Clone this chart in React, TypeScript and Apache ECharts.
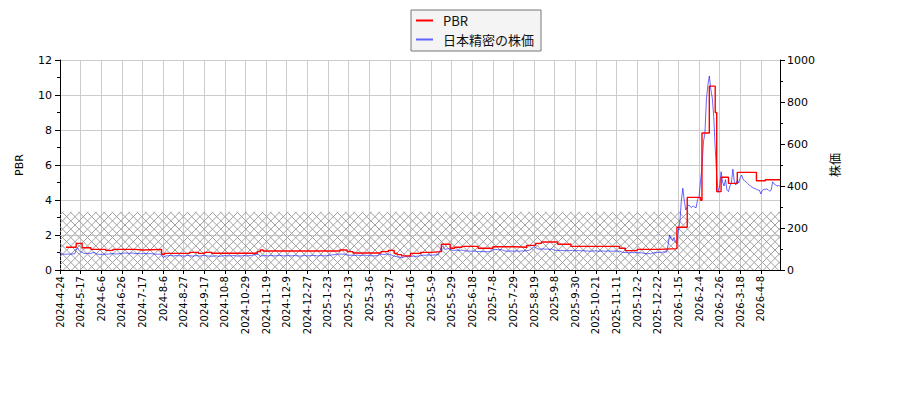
import React, { useEffect, useRef } from "react";
import * as echarts from "echarts";

// x tick labels: one every 14 trading days
const TICK_LABELS = [
  "2024-4-24", "2024-5-17", "2024-6-6", "2024-6-26", "2024-7-17", "2024-8-6",
  "2024-8-27", "2024-9-17", "2024-10-8", "2024-10-29", "2024-11-19", "2024-12-9",
  "2024-12-27", "2025-1-23", "2025-2-13", "2025-3-6", "2025-3-27", "2025-4-16",
  "2025-5-9", "2025-5-29", "2025-6-18", "2025-7-8", "2025-7-29", "2025-8-19",
  "2025-9-8", "2025-9-30", "2025-10-21", "2025-11-11", "2025-12-2", "2025-12-22",
  "2026-1-15", "2026-2-4", "2026-2-26", "2026-3-18", "2026-4-8",
];
const TICK_STEP = 14;
const N_DAYS = 490;

// 日本精密の株価 (yen), one value per trading day
const PRICE = [
  75, 75, 76, 75, 75, 76, 76, 75, 76, 77, 77,
  95, 106, 92, 87, 85,
  80, 79, 79, 80, 78, 79,
  82, 83, 81,
  76, 75, 75, 74, 75, 76, 75, 75, 76,
  77, 77, 78, 77, 76, 77, 77, 78,
  80, 80, 81, 80, 80, 79, 80, 81, 80,
  78, 78, 79, 78, 77, 78, 78, 79, 78, 77, 78, 78, 77, 76,
  75, 75, 76, 75, 74,
  59,
  64, 67, 68, 68, 69, 68, 67, 68, 69, 68, 68,
  67, 68, 66, 67, 69, 70, 68, 67, 66, 67,
  68, 69, 67, 66, 68, 69, 70, 68, 67, 66,
  67, 65, 66, 67, 68, 66, 65, 66, 67, 68,
  69, 68, 67,
  68, 67, 68, 69, 68, 67, 66, 68, 67, 68,
  69, 68, 67, 68, 69, 70, 71, 72, 74,
  75, 73, 64, 68,
  68, 69, 68, 67, 68, 69, 68, 68, 67, 68,
  69, 70, 69, 68, 67, 68, 68, 69, 68, 67,
  68, 69, 68, 68, 67, 66, 67, 68, 69, 68,
  67, 68, 68, 69, 70, 69, 68, 67, 68, 69,
  68, 67, 68, 68, 69, 70, 71, 72, 73, 74,
  75, 75,
  76, 76, 75, 76, 74, 72,
  70, 70, 71, 70, 69, 70, 71, 70, 69, 70, 70, 71, 70, 69, 70,
  68, 68, 67, 68, 68, 69,
  73, 75, 75, 74, 75, 76, 75, 74, 72,
  68, 66, 64, 63, 62, 61,
  58, 60,
  63, 64, 65, 65, 64, 65, 66, 65, 65, 66, 67, 68,
  70, 71, 70, 71, 72, 71, 70, 71, 72, 71, 72, 74,
  90, 108, 116,
  100, 98, 101, 102, 99,
  95, 94, 93, 95, 94, 93, 94, 95, 93, 92,
  90, 91, 90, 89, 90, 91, 90,
  88, 87, 88, 89, 88, 87, 88, 86, 87, 88, 90,
  96, 97, 98, 97, 96, 97, 96, 94,
  91, 90, 89, 90, 91, 90, 89, 90, 91, 90, 89, 90, 91, 90, 91, 92, 93, 95,
  100, 106, 111, 108,
  101, 100, 99, 100, 101, 100, 99, 100, 98, 99, 100, 97,
  94, 93, 94, 92, 93, 94, 92, 93, 91, 92, 93, 92, 94, 92, 91, 92, 93, 92, 91, 92, 92,
  90, 91, 90, 89, 90, 91, 90, 92, 90, 89, 90, 91, 90, 89, 90, 91, 90, 90, 89, 90,
  91, 90, 89, 90, 88,
  84, 83, 84, 83, 82, 83, 84, 83, 82, 84, 83, 82, 81, 82, 80, 79, 78, 77, 79, 76,
  80, 82, 83, 82, 84, 83, 84, 85, 86, 85,
  85, 120, 167, 150, 140, 155, 132, 128, 190, 230,
  330, 389, 330, 286, 300, 310, 302, 298, 305, 300,
  296, 335, 348, 420, 492, 610, 650, 810, 880, 924,
  860, 820, 730, 580, 450, 370, 400, 468, 420, 400,
  430, 380, 373, 400, 414, 480, 420, 405, 430, 415,
  440, 452, 430, 425, 420, 412, 405, 400, 395, 390,
  388, 384, 381, 380, 362, 380, 384, 384, 386, 382,
  375, 380, 420, 410, 405, 400, 402, 400,
];

// PBR: [trading-day index where the value starts, value]
const PBR_STEPS: [number, number][] = [
  [4, 1.3], [11, 1.52], [15, 1.27], [21, 1.18], [31, 1.12], [36, 1.18],
  [51, 1.14], [56, 1.18], [69, 0.9], [71, 0.95], [88, 1.01], [94, 0.95],
  [98, 1.01], [103, 0.96], [134, 1.05], [136, 1.14], [138, 1.09], [190, 1.14],
  [195, 1.05], [199, 0.97], [218, 1.05], [223, 1.12], [227, 0.95], [229, 0.88],
  [232, 0.81], [238, 0.95], [245, 1.01], [252, 1.05], [259, 1.47], [265, 1.24],
  [268, 1.3], [273, 1.35], [284, 1.24], [294, 1.33], [309, 1.3], [317, 1.41],
  [323, 1.52], [327, 1.6], [338, 1.47], [347, 1.35], [380, 1.24], [384, 1.11],
  [392, 1.18], [407, 1.22], [419, 2.44], [426, 4.15], [435, 3.98], [436, 7.83],
  [441, 10.51], [445, 9.0], [446, 4.48], [449, 5.3], [454, 4.95], [460, 5.58],
  [473, 5.1], [479, 5.16], [489, 5.16],
];

const HATCH_TOP = 3.33;

function hatchImage(): string {
  const s = 25;
  const d = s / 3;
  let p = "";
  for (let k = -3; k <= 3; k++) {
    const c = k * d;
    p += `M${c} 0L${c + s} ${s}`;
  }
  for (let k = 0; k <= 6; k++) {
    const c = k * d;
    p += `M${c} 0L${c - s} ${s}`;
  }
  const svg = `<svg xmlns="http://www.w3.org/2000/svg" width="${s}" height="${s}"><path d="${p}" stroke="#a0a0a0" stroke-width="1" fill="none"/></svg>`;
  return "data:image/svg+xml;charset=utf-8," + encodeURIComponent(svg);
}

export default function App() {
  const ref = useRef<HTMLDivElement>(null);
  useEffect(() => {
    document.body.style.margin = "0";
    const chart = echarts.init(ref.current!, null, { renderer: "svg" });
    const categories = Array.from({ length: N_DAYS }, (_, i) => String(i));
    const font = "DejaVu Sans";
    const option: any = {
      animation: false,
      grid: { left: 60, right: 120, top: 60, bottom: 130 },
      legend: {
        orient: "vertical",
        left: 411,
        top: 10,
        backgroundColor: "#f4f4f4",
        borderColor: "#777777",
        borderWidth: 1,
        borderRadius: 0,
        padding: [3, 7, 4, 5],
        icon: "rect",
        itemWidth: 17,
        itemHeight: 2,
        itemGap: 4,
        textStyle: {
          fontFamily: "Noto Sans CJK JP",
          fontSize: 13,
          lineHeight: 15,
          color: "#111",
          padding: [0, 0, 0, 5],
        },
        data: ["PBR", "日本精密の株価"],
      },
      xAxis: {
        type: "category",
        data: categories,
        boundaryGap: false,
        axisLine: { show: true, lineStyle: { color: "#000", width: 1 } },
        axisTick: { show: true, interval: TICK_STEP - 1, length: 4, lineStyle: { color: "#000" } },
        axisLabel: {
          interval: TICK_STEP - 1,
          rotate: 90,
          margin: 6,
          fontFamily: font,
          fontSize: 10,
          color: "#000",
          formatter: (_v: string, idx: number) =>
            idx % TICK_STEP === 0 ? TICK_LABELS[idx / TICK_STEP] ?? "" : "",
        },
        splitLine: { show: true, interval: TICK_STEP - 1, lineStyle: { color: "#cccccc", width: 1 } },
      },
      yAxis: [
        {
          type: "value",
          position: "left",
          min: 0,
          max: 12,
          interval: 2,
          name: "PBR",
          nameLocation: "middle",
          nameGap: 35,
          nameRotate: 90,
          nameTextStyle: { fontFamily: font, fontSize: 11, color: "#000" },
          axisLine: { show: true, lineStyle: { color: "#000" } },
          axisTick: { show: true, length: 5, lineStyle: { color: "#000" } },
          minorTick: { show: true, splitNumber: 2, length: 3, lineStyle: { color: "#000" } },
          axisLabel: { fontFamily: font, fontSize: 11, color: "#000", margin: 8 },
          splitLine: { show: true, lineStyle: { color: "#cccccc", width: 1 } },
        },
        {
          type: "value",
          position: "right",
          min: 0,
          max: 1000,
          interval: 200,
          name: "株価",
          nameLocation: "middle",
          nameGap: 48,
          nameRotate: 90,
          nameTextStyle: { fontFamily: "Noto Sans CJK JP", fontSize: 12, color: "#000" },
          axisLine: { show: true, lineStyle: { color: "#000" } },
          axisTick: { show: true, length: 5, lineStyle: { color: "#000" } },
          minorTick: { show: true, splitNumber: 2, length: 3, lineStyle: { color: "#000" } },
          axisLabel: {
            fontFamily: font,
            fontSize: 11,
            color: "#000",
            margin: 7,
            formatter: (v: number) => String(v),
          },
          splitLine: { show: false },
        },
      ],
      series: [
        {
          name: "PBR",
          type: "line",
          yAxisIndex: 0,
          step: "end",
          symbol: "none",
          showSymbol: false,
          color: "#ff0000",
          lineStyle: { color: "#ff0000", width: 1.4 },
          data: PBR_STEPS.map(([i, v]) => [i, v]),
          z: 3,
          markArea: {
            silent: true,
            itemStyle: {
              color: { image: hatchImage(), repeat: "repeat", imageWidth: 25, imageHeight: 25 },
              borderWidth: 0,
            },
            data: [[{ yAxis: 0 }, { yAxis: HATCH_TOP }]],
          },
        },
        {
          name: "日本精密の株価",
          type: "line",
          yAxisIndex: 1,
          symbol: "none",
          showSymbol: false,
          color: "rgba(0,0,255,0.6)",
          lineStyle: { color: "rgba(0,0,255,0.6)", width: 1 },
          data: PRICE,
          z: 2,
        },
      ],
    };
    chart.setOption(option);
    return () => chart.dispose();
  }, []);
  return <div ref={ref} style={{ width: 900, height: 400 }} />;
}
